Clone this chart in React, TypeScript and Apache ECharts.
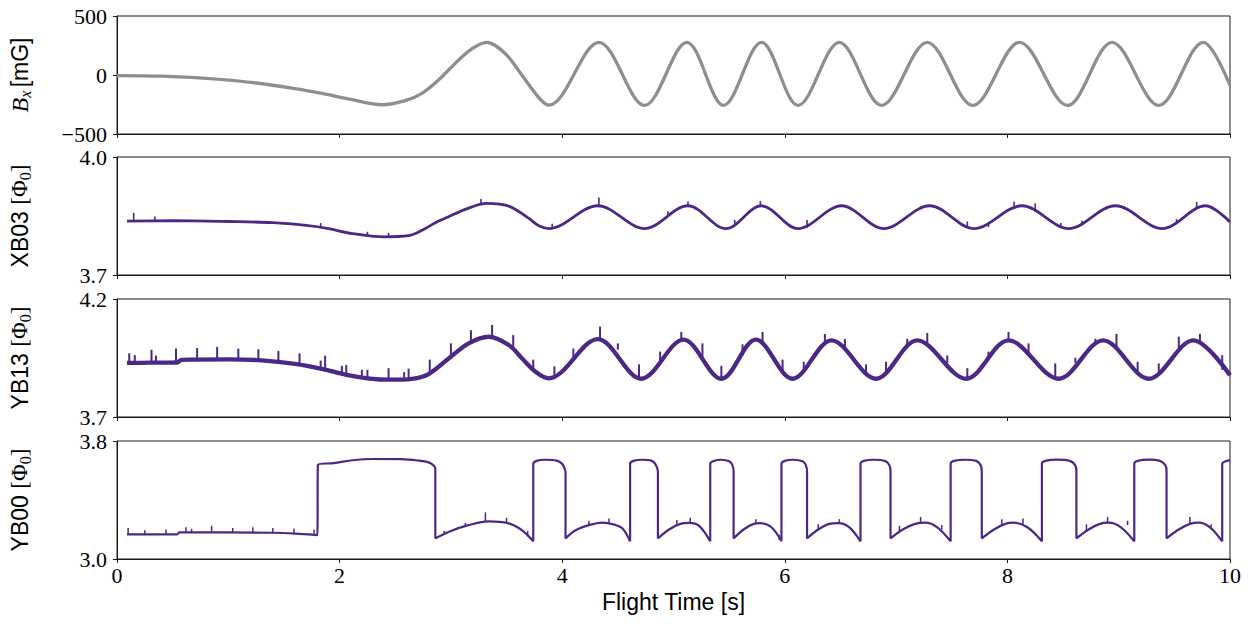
import React, { useEffect, useRef } from 'react';
import * as echarts from 'echarts';

// ---------- data ----------
const xTicks = [0, 2, 4, 6, 8, 10];

const bxTicks = [-500, 0, 500];
const xb03Ticks = [3.7, 4.0];
const yb13Ticks = [3.7, 4.2];
const yb00Ticks = [3.0, 3.8];

// B_x [mG]  (time s, value): slow start, then peaks / troughs
const bxPoints: [number, number][] = [
  [0, -5], [0.4, -10], [0.8, -28], [1.2, -62], [1.6, -115], [1.85, -158], [2.1, -207],
  [2.38, -252], [2.59, -217], [2.74, -155], [2.89, -41], [3.04, 100], [3.19, 223],
  [3.32, 277], [3.49, 180], [3.64, -4], [3.8, -202], [3.88, -256],
  [4.33, 277], [4.74, -258], [5.12, 277], [5.45, -258], [5.79, 277], [6.12, -258],
  [6.49, 277], [6.87, -258], [7.28, 277], [7.69, -258], [8.11, 277], [8.54, -258],
  [8.94, 277], [9.36, -258], [9.76, 277], [10.0, -89],
];

// XB03 [Phi0]
const xb03Points: [number, number][] = [
  [0.09, 3.837], [0.5, 3.838], [1.0, 3.836], [1.4, 3.833], [1.7, 3.826], [1.9, 3.818],
  [2.1, 3.806], [2.4, 3.797], [2.62, 3.8], [2.75, 3.815], [2.86, 3.833], [2.98, 3.848],
  [3.13, 3.867], [3.32, 3.882], [3.52, 3.875], [3.7, 3.844], [3.79, 3.825], [3.88, 3.818],
  [4.32, 3.876], [4.74, 3.818], [5.13, 3.876], [5.47, 3.818], [5.79, 3.876], [6.12, 3.818],
  [6.51, 3.876], [6.89, 3.818], [7.3, 3.876], [7.7, 3.818], [8.13, 3.876], [8.55, 3.818],
  [8.97, 3.876], [9.39, 3.818], [9.78, 3.876], [10.0, 3.835],
];
// spikes: time, foot, tip
const xb03Spikes: [number, number, number][] = [
  [0.15, 3.837, 3.858], [0.34, 3.837, 3.849], [1.83, 3.822, 3.832], [2.25, 3.8, 3.81],
  [2.44, 3.797, 3.807], [3.27, 3.88, 3.893], [3.91, 3.818, 3.83], [4.33, 3.876, 3.897],
  [4.95, 3.85, 3.862], [5.13, 3.876, 3.887], [5.55, 3.83, 3.84], [5.78, 3.876, 3.888],
  [6.2, 3.82, 3.84], [7.64, 3.82, 3.836], [7.83, 3.822, 3.834], [8.06, 3.872, 3.886],
  [8.25, 3.86, 3.882], [8.48, 3.82, 3.832], [8.67, 3.826, 3.838], [9.52, 3.83, 3.842],
  [9.7, 3.872, 3.886],
];

// YB13 [Phi0]
const yb13Points: [number, number][] = [
  [0.09, 3.929], [0.3, 3.93], [0.54, 3.931], [0.58, 3.942], [1.0, 3.944], [1.3, 3.94],
  [1.6, 3.925], [1.85, 3.903], [2.05, 3.88], [2.27, 3.863], [2.45, 3.858], [2.65, 3.862],
  [2.8, 3.882], [2.98, 3.948], [3.16, 4.012], [3.34, 4.04], [3.52, 4.005], [3.64, 3.948],
  [3.76, 3.892], [3.88, 3.864], [4.32, 4.03], [4.71, 3.862], [5.09, 4.028], [5.43, 3.862],
  [5.74, 4.028], [6.07, 3.862], [6.42, 4.025], [6.82, 3.862], [7.19, 4.025], [7.63, 3.862],
  [8.01, 4.025], [8.46, 3.862], [8.86, 4.025], [9.27, 3.862], [9.67, 4.025], [10.0, 3.877],
];
const yb13Spikes: [number, number, number][] = [
  [0.11, 3.929, 3.97], [0.16, 3.929, 3.962], [0.31, 3.93, 3.985], [0.35, 3.93, 3.96],
  [0.53, 3.931, 3.99], [0.72, 3.943, 3.992], [0.9, 3.944, 3.997], [1.09, 3.943, 3.99],
  [1.27, 3.94, 3.987], [1.45, 3.932, 3.98], [1.64, 3.92, 3.97], [1.83, 3.905, 3.939],
  [1.87, 3.9, 3.96], [2.02, 3.882, 3.917], [2.06, 3.878, 3.92], [2.2, 3.866, 3.9],
  [2.25, 3.864, 3.9], [2.44, 3.858, 3.907], [2.58, 3.86, 3.89], [2.62, 3.861, 3.905],
  [2.81, 3.885, 3.943], [3.0, 3.952, 4.012], [3.18, 4.015, 4.068], [3.37, 4.038, 4.09],
  [3.56, 3.99, 4.047], [3.74, 3.9, 3.943], [3.93, 3.866, 3.915], [4.1, 3.945, 3.99],
  [4.34, 4.03, 4.083], [4.5, 3.985, 4.012], [4.69, 3.865, 3.923], [4.88, 3.935, 3.977],
  [5.07, 4.027, 4.06], [5.26, 3.945, 4.012], [5.43, 3.862, 3.917], [5.62, 3.96, 4.008],
  [5.8, 4.02, 4.06], [5.98, 3.89, 3.943], [6.17, 3.9, 3.934], [6.36, 4.015, 4.052],
  [6.54, 3.99, 4.031], [6.73, 3.89, 3.923], [6.91, 3.88, 3.934], [7.1, 3.99, 4.031],
  [7.28, 4.015, 4.056], [7.46, 3.93, 3.961], [7.64, 3.862, 3.907], [7.83, 3.95, 3.977],
  [8.01, 4.025, 4.06], [8.19, 3.97, 4.012], [8.43, 3.865, 3.927], [8.61, 3.93, 3.951],
  [8.79, 4.01, 4.031], [8.98, 3.994, 4.052], [9.17, 3.895, 3.934], [9.36, 3.89, 3.927],
  [9.54, 3.98, 4.04], [9.73, 4.02, 4.052], [9.93, 3.9, 3.962],
];

// YB00 [Phi0]
const yb00Points: [number, number][] = [
  [0.09, 3.167], [0.54, 3.167], [0.56, 3.18], [1.0, 3.18], [1.4, 3.178], [1.6, 3.172], [1.8, 3.162],
  [1.805, 3.64], [1.95, 3.65], [2.1, 3.668], [2.3, 3.678], [2.55, 3.677], [2.7, 3.668], [2.8, 3.655], [2.85, 3.63], [2.86, 3.61],
  [2.86, 3.14], [3.0, 3.19], [3.15, 3.228], [3.34, 3.255], [3.52, 3.242], [3.62, 3.205], [3.69, 3.16], [3.74, 3.12],
  [3.74, 3.645], [3.77, 3.665], [3.85, 3.673], [3.95, 3.667], [4.0, 3.645], [4.02, 3.615], [4.03, 3.59],
  [4.03, 3.14], [4.12, 3.195], [4.24, 3.23], [4.36, 3.247], [4.46, 3.235], [4.54, 3.208], [4.61, 3.12],
  [4.61, 3.645], [4.64, 3.665], [4.72, 3.673], [4.8, 3.667], [4.84, 3.64], [4.86, 3.59],
  [4.86, 3.14], [4.96, 3.2], [5.06, 3.238], [5.14, 3.245], [5.23, 3.225], [5.33, 3.12],
  [5.33, 3.645], [5.36, 3.665], [5.43, 3.673], [5.5, 3.662], [5.53, 3.635], [5.54, 3.59],
  [5.54, 3.14], [5.63, 3.2], [5.72, 3.238], [5.78, 3.243], [5.88, 3.215], [5.97, 3.12],
  [5.97, 3.645], [6.0, 3.665], [6.08, 3.673], [6.16, 3.662], [6.19, 3.635], [6.2, 3.59],
  [6.2, 3.14], [6.3, 3.2], [6.4, 3.238], [6.48, 3.243], [6.58, 3.215], [6.68, 3.12],
  [6.68, 3.645], [6.71, 3.665], [6.8, 3.673], [6.9, 3.665], [6.94, 3.635], [6.95, 3.59],
  [6.95, 3.14], [7.06, 3.2], [7.17, 3.238], [7.26, 3.246], [7.37, 3.215], [7.49, 3.12],
  [7.49, 3.645], [7.52, 3.665], [7.62, 3.673], [7.72, 3.665], [7.76, 3.635], [7.77, 3.59],
  [7.77, 3.14], [7.88, 3.2], [7.98, 3.238], [8.06, 3.246], [8.18, 3.215], [8.31, 3.12],
  [8.31, 3.645], [8.34, 3.665], [8.45, 3.674], [8.56, 3.665], [8.61, 3.635], [8.62, 3.59],
  [8.62, 3.14], [8.73, 3.2], [8.83, 3.238], [8.91, 3.246], [9.02, 3.215], [9.14, 3.12],
  [9.14, 3.645], [9.17, 3.665], [9.27, 3.674], [9.37, 3.665], [9.42, 3.635], [9.43, 3.59],
  [9.43, 3.14], [9.54, 3.2], [9.64, 3.238], [9.72, 3.246], [9.82, 3.215], [9.93, 3.12],
  [9.93, 3.645], [9.96, 3.663], [10.0, 3.668],
];
const yb00Spikes: [number, number, number][] = [
  [0.1, 3.167, 3.21], [0.25, 3.167, 3.195], [0.44, 3.167, 3.2], [0.62, 3.18, 3.215],
  [0.67, 3.18, 3.205], [0.85, 3.18, 3.225], [1.04, 3.18, 3.21], [1.22, 3.179, 3.215],
  [1.4, 3.177, 3.21], [1.59, 3.17, 3.205], [1.77, 3.163, 3.2],
  [2.94, 3.165, 3.19], [3.13, 3.222, 3.245], [3.31, 3.254, 3.316], [3.5, 3.244, 3.28],
  [3.69, 3.16, 3.19], [4.24, 3.23, 3.26], [4.42, 3.24, 3.275], [5.03, 3.232, 3.265],
  [5.15, 3.244, 3.28], [5.74, 3.24, 3.27], [5.95, 3.13, 3.165], [6.3, 3.2, 3.235],
  [6.49, 3.242, 3.27], [7.03, 3.185, 3.225], [7.22, 3.243, 3.285], [7.41, 3.2, 3.23],
  [7.95, 3.232, 3.27], [8.14, 3.235, 3.275], [8.71, 3.19, 3.235], [8.9, 3.246, 3.285],
  [9.08, 3.23, 3.26], [9.64, 3.238, 3.285], [9.83, 3.205, 3.235],
];

// ---------- styles ----------
const PURPLE = '#4b2885';
const GRAY = '#8e8e8e';
const AXIS = '#1a1a1a';
const SERIF = 'Liberation Serif';
const SANS = 'Liberation Sans';
const SMOOTH = 0.34;

const LEFT = 114;
const WIDTH = 1116;
const TOPS = [16, 157, 299, 441];
const HEIGHT = 118;

function fmtY(v: number, decimals: number) {
  const s = decimals ? Math.abs(v).toFixed(decimals) : String(Math.abs(Math.round(v)));
  return v < 0 ? '\u2212' + s : s;
}

const nameRich = {
  i: { fontFamily: SERIF, fontStyle: 'italic', fontSize: 24, color: '#000', verticalAlign: 'top', lineHeight: 28 },
  sr: { fontFamily: SERIF, fontSize: 23, color: '#000', verticalAlign: 'top', lineHeight: 28 },
  s: { fontFamily: SERIF, fontSize: 16, color: '#000', verticalAlign: 'top', lineHeight: 28, padding: [9, 0, 0, 0] },
  si: { fontFamily: SERIF, fontStyle: 'italic', fontSize: 16, color: '#000', verticalAlign: 'top', lineHeight: 28, padding: [9, 0, 0, 0] },
  t: { fontFamily: SANS, fontSize: 23, color: '#000', verticalAlign: 'top', lineHeight: 28 },
};

function spikeSeries(data: [number, number, number][], idx: number, width: number) {
  return {
    type: 'custom',
    xAxisIndex: idx,
    yAxisIndex: idx,
    data,
    encode: { x: 0, y: [1, 2] },
    silent: true,
    z: 3,
    renderItem: (_p: any, api: any) => {
      const a = api.coord([api.value(0), api.value(1)]);
      const b = api.coord([api.value(0), api.value(2)]);
      return {
        type: 'line',
        shape: { x1: a[0], y1: a[1], x2: b[0], y2: b[1] },
        style: { stroke: PURPLE, lineWidth: width },
      };
    },
  };
}

export default function App() {
  const ref = useRef<HTMLDivElement>(null);

  useEffect(() => {
    if (!ref.current) return;
    const chart = echarts.init(ref.current, null, { renderer: 'svg' });

    const grids = TOPS.map((top) => ({
      left: LEFT,
      top,
      width: WIDTH,
      height: HEIGHT,
      show: true,
      borderColor: AXIS,
      borderWidth: 1,
      backgroundColor: 'transparent',
    }));

    const xAxes = TOPS.map((_, i) => ({
      type: 'value',
      gridIndex: i,
      min: 0,
      max: 10,
      interval: 2,
      axisLine: { show: true, onZero: false, lineStyle: { color: AXIS, width: 1 } },
      axisTick: { show: true, inside: false, length: 4, lineStyle: { color: AXIS } },
      axisLabel: {
        show: i === 3,
        fontFamily: SERIF,
        fontSize: 22,
        color: '#000',
        margin: 5,
        formatter: (v: number) => (xTicks.includes(v) ? String(v) : ''),
      },
      splitLine: { show: false },
      name: i === 3 ? 'Flight Time [s]' : '',
      nameLocation: 'middle',
      nameGap: 31,
      nameTextStyle: { fontFamily: SANS, fontSize: 23, color: '#000' },
    }));

    const yDefs = [
      { min: -500, max: 500, ticks: bxTicks, dec: 0, name: '{i|B}{si|x} {t|[mG]}' },
      { min: 3.7, max: 4.0, ticks: xb03Ticks, dec: 1, name: '{t|XB03 }{sr|[Φ}{s|0}{sr|]}' },
      { min: 3.7, max: 4.2, ticks: yb13Ticks, dec: 1, name: '{t|YB13 }{sr|[Φ}{s|0}{sr|]}' },
      { min: 3.0, max: 3.8, ticks: yb00Ticks, dec: 1, name: '{t|YB00 }{sr|[Φ}{s|0}{sr|]}' },
    ];

    const yAxes = yDefs.map((d, i) => ({
      type: 'value',
      gridIndex: i,
      min: d.min,
      max: d.max,
      axisLine: { show: true, onZero: false, lineStyle: { color: AXIS, width: 1 } },
      axisTick: { show: true, inside: false, length: 4, customValues: d.ticks, lineStyle: { color: AXIS } },
      axisLabel: {
        show: true,
        customValues: d.ticks,
        fontFamily: SERIF,
        fontSize: 22,
        color: '#000',
        margin: 10,
        formatter: (v: number) => fmtY(v, d.dec),
      },
      splitLine: { show: false },
      name: d.name,
      nameLocation: 'middle',
      nameRotate: 90,
      nameGap: 81,
      nameTextStyle: { rich: nameRich },
    }));

    chart.setOption({
      animation: false,
      backgroundColor: '#fff',
      grid: grids,
      xAxis: xAxes,
      yAxis: yAxes,
      series: [
        {
          type: 'line', xAxisIndex: 0, yAxisIndex: 0, data: bxPoints, smooth: SMOOTH,
          showSymbol: false, lineStyle: { color: GRAY, width: 3.3 }, z: 2,
        },
        {
          type: 'line', xAxisIndex: 1, yAxisIndex: 1, data: xb03Points, smooth: SMOOTH,
          showSymbol: false, lineStyle: { color: PURPLE, width: 2.8 }, z: 2,
        },
        spikeSeries(xb03Spikes, 1, 1.6),
        {
          type: 'line', xAxisIndex: 2, yAxisIndex: 2, data: yb13Points, smooth: SMOOTH,
          showSymbol: false, lineStyle: { color: PURPLE, width: 4.3 }, z: 2,
        },
        spikeSeries(yb13Spikes, 2, 2),
        {
          type: 'line', xAxisIndex: 3, yAxisIndex: 3, data: yb00Points, smooth: SMOOTH,
          showSymbol: false, lineStyle: { color: PURPLE, width: 2.2 }, z: 2,
        },
        spikeSeries(yb00Spikes, 3, 1.5),
      ],
    });

    return () => chart.dispose();
  }, []);

  return (
    <div
      ref={ref}
      style={{ position: 'fixed', left: 0, top: 0, width: 1248, height: 624, background: '#fff' }}
    />
  );
}
